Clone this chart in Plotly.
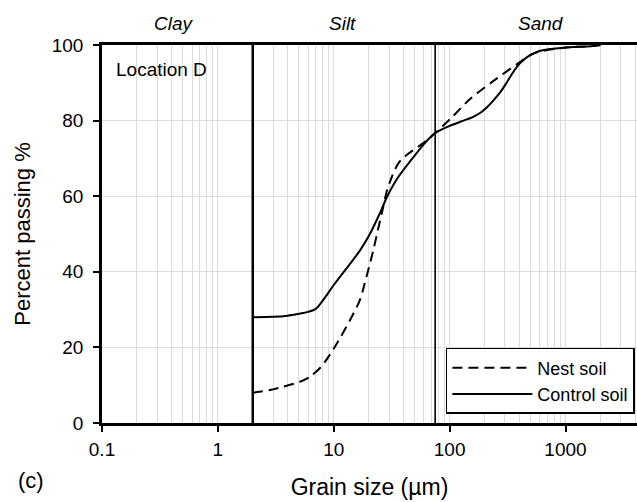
import math
import plotly.graph_objects as go

# Grain-size distribution, location D
nest_size = [2, 3, 3.64, 5, 6.2, 7.8, 10.2, 13.8, 16.8, 18.5, 21.9, 24, 26.7, 28.5,
             31.6, 35, 38.5, 43, 48.6, 56, 63, 75, 101, 150, 239, 380, 532, 968, 1660, 2000]
nest_pct = [8, 8.9, 9.6, 10.8, 12.2, 14.9, 20.1, 27.2, 32.5, 36.9, 45.6, 51, 57.1, 61,
            65, 68, 69.8, 71, 72.2, 73.5, 74.7, 76.7, 80.4, 85.7, 90.5, 94.9, 97.8,
            99.3, 99.7, 100]

control_size = [2, 3, 4, 5, 6, 7, 8, 10, 13.8, 16.8, 20.5, 25, 29, 35, 48.6, 63, 75,
                100, 132, 160, 183, 208, 238, 275, 310, 353, 400, 466, 532, 608, 968,
                1660, 2000]
control_pct = [28, 28.1, 28.4, 28.9, 29.4, 30.2, 32.3, 36.5, 42.1, 45.6, 50, 55.5, 60,
               64.5, 70.3, 74.5, 76.7, 78.6, 80, 81, 82, 83.4, 85.3, 87.6, 90, 92.8,
               95, 96.8, 97.8, 98.5, 99.3, 99.7, 100]

# Particle-size class boundaries (µm) and class names
class_bounds = [2, 75]
class_names = ["Clay", "Silt", "Sand"]
class_label_pos = [0.42, 11.8, 612]

x_ticks = [0.1, 1, 10, 100, 1000]
x_ticktext = ["0.1", "1", "10", "100", "1000"]
y_ticks = [0, 20, 40, 60, 80, 100]

FONT = "Liberation Sans, Arial, sans-serif"
GRID = "#dcdcdc"

fig = go.Figure()

fig.add_trace(go.Scatter(
    x=nest_size, y=nest_pct, mode="lines", name="Nest soil",
    line=dict(color="black", width=2, dash="10px,6px", shape="spline", smoothing=0.8),
))
fig.add_trace(go.Scatter(
    x=control_size, y=control_pct, mode="lines", name="Control soil",
    line=dict(color="black", width=2, shape="spline", smoothing=0.8),
))

# class boundary lines
for b, w in zip(class_bounds, [2.5, 1.6]):
    fig.add_trace(go.Scatter(
        x=[b, b], y=[0, 100], mode="lines", showlegend=False, hoverinfo="skip",
        line=dict(color="black", width=w),
    ))

for name, xp in zip(class_names, class_label_pos):
    fig.add_annotation(
        x=math.log10(xp), y=1, xref="x", yref="paper", yanchor="bottom", yshift=9,
        text=f"<i>{name}</i>", showarrow=False,
        font=dict(family=FONT, size=19, color="black"),
    )

fig.add_annotation(
    x=0, y=1, xref="paper", yref="paper", xanchor="left", yanchor="top",
    xshift=12, yshift=-12, text="Location D", showarrow=False,
    font=dict(family=FONT, size=19, color="black"),
)
fig.add_annotation(
    x=0, y=0, xref="paper", yref="paper", xanchor="left", yanchor="middle",
    xshift=-86, yshift=-57, text="(c)", showarrow=False,
    font=dict(family=FONT, size=22, color="black"),
)

fig.update_layout(
    width=637, height=502,
    margin=dict(l=102, r=0, t=45, b=79),
    paper_bgcolor="white", plot_bgcolor="white",
    font=dict(family=FONT, size=19, color="black"),
    legend=dict(
        x=0.996, y=0.024, xanchor="right", yanchor="bottom",
        bgcolor="white", bordercolor="black", borderwidth=1.5,
        font=dict(family=FONT, size=18, color="black"),
        itemwidth=80, tracegroupgap=0,
    ),
    showlegend=True,
)

fig.update_xaxes(
    type="log", range=[-1, 3.617], automargin=False,
    tickvals=x_ticks, ticktext=x_ticktext,
    ticks="outside", ticklen=6, tickwidth=1.5, tickcolor="black",
    showline=True, linecolor="black", linewidth=2.5, mirror=True,
    showgrid=True, gridcolor=GRID, gridwidth=1,
    minor=dict(dtick="D1", showgrid=True, gridcolor=GRID, gridwidth=1, ticks=""),
    ticklabelstandoff=1,
    tickfont=dict(family=FONT, size=19, color="black"),
    title=dict(text="Grain size (µm)", standoff=21,
               font=dict(family=FONT, size=23, color="black")),
    zeroline=False,
)
fig.update_yaxes(
    range=[0, 100], tickvals=y_ticks, automargin=False,
    ticks="outside", ticklen=6, tickwidth=1.5, tickcolor="black",
    showline=True, linecolor="black", linewidth=2.5,
    showgrid=True, gridcolor=GRID, gridwidth=1,
    ticklabelstandoff=6,
    tickfont=dict(family=FONT, size=19, color="black"),
    title=dict(text="Percent passing %", standoff=16,
               font=dict(family=FONT, size=22, color="black")),
    zeroline=False,
)

fig.write_html("out.html")
